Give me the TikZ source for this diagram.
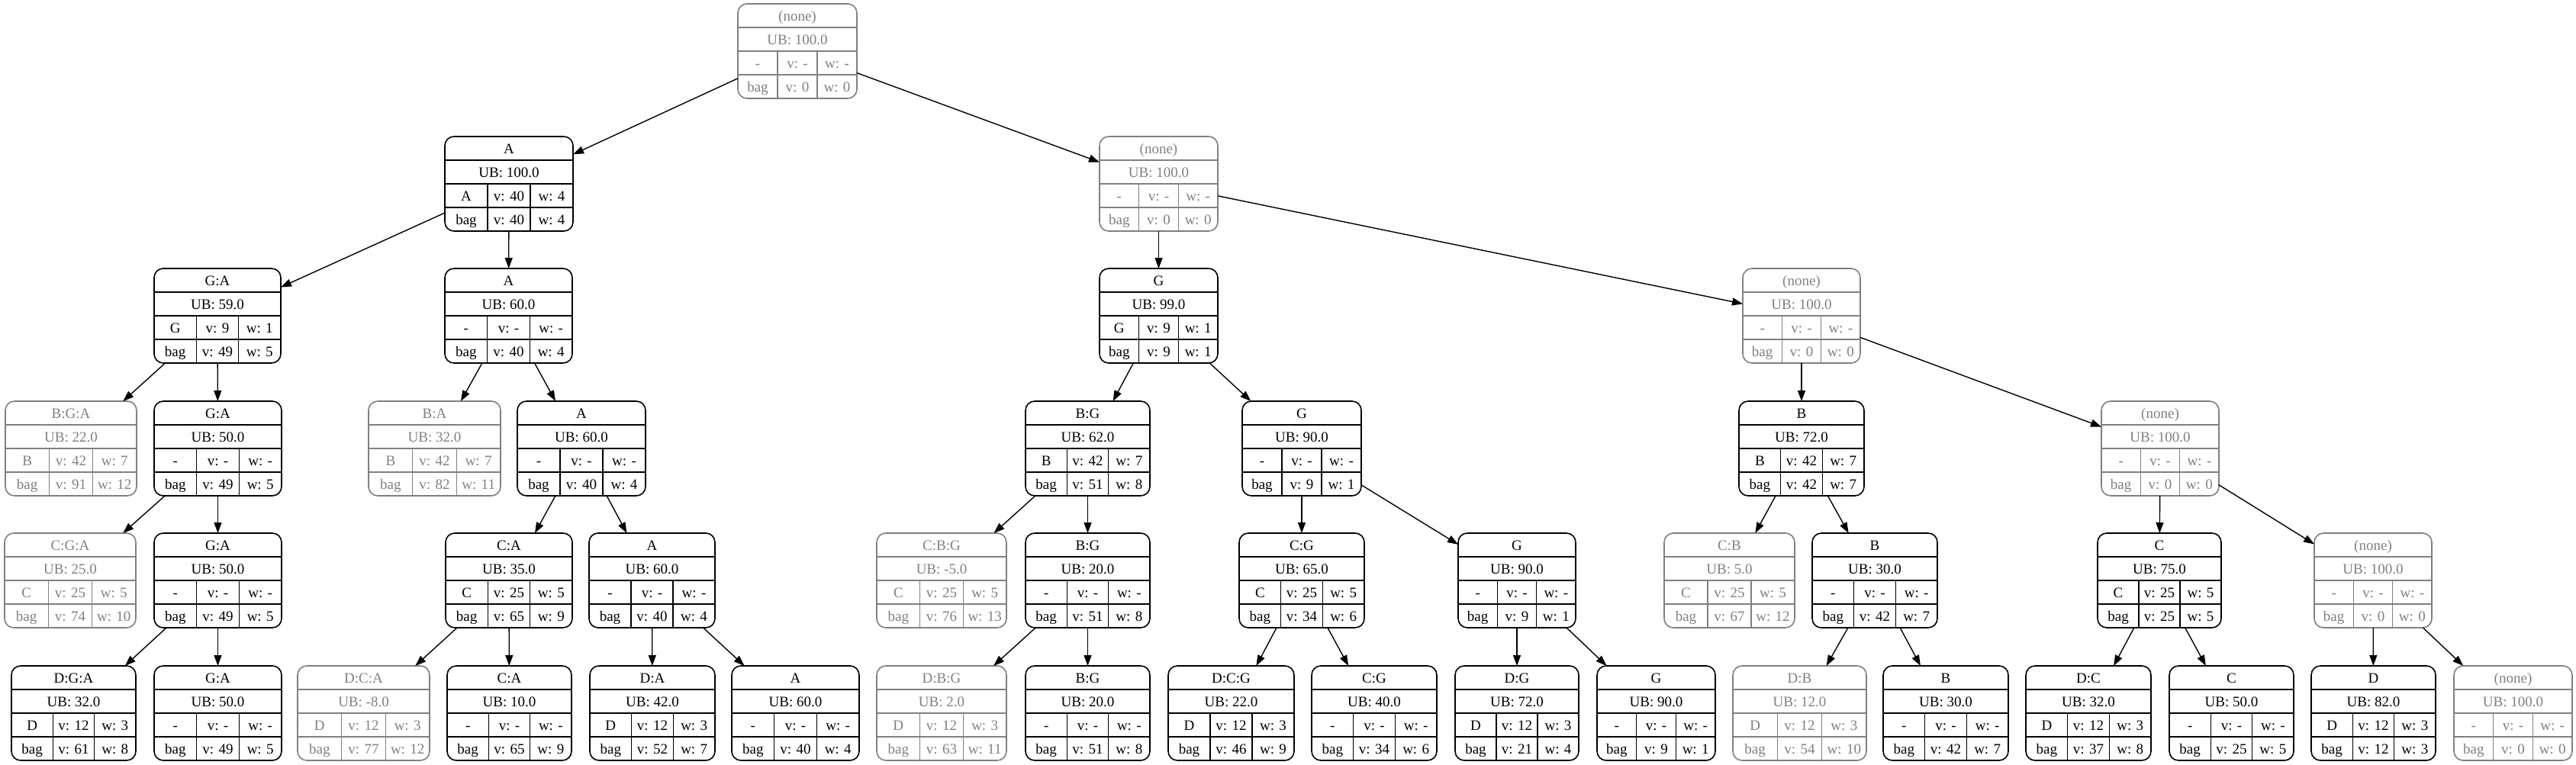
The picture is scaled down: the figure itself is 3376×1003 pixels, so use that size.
\documentclass[tikz,border=0pt]{standalone}
\usepackage{fontspec}
\setmainfont{Liberation Serif}
\usetikzlibrary{arrows.meta}
\newcommand\recfont{\fontsize{19}{23}\selectfont}
\colorlet{pr}{gray}
\newlength\lA \newlength\lB \newlength\lC
\def\splitthree#1/#2/#3\relax{\def\ta{#1}\def\tb{#2}\def\tc{#3}}
\def\splittwo#1/#2\relax{\def\td{#1}\def\te{#2}}
\tikzset{
  recbox/.style={rectangle, rounded corners=12pt, minimum height=124pt, inner sep=0pt, outer sep=0pt, anchor=north west, line width=1.6pt},
  recline/.style={line width=1.3pt},
  rectext/.style={anchor=base, inner sep=0pt, font=\recfont},
  edge/.style={-{Triangle[length=14pt,width=10pt]}, line width=1.4pt, black},
}
\newcommand\recnode[9]{%
  \pgfmathsetmacro\rW{#3-#2}%
  \pgfmathsetmacro\rxc{(#2+#3)/2}%
  \node[recbox, draw=#5, minimum width=\rW pt] (#1) at (#2,#4) {};
  \splitthree#8\relax \splittwo#9\relax
  \draw[recline,#5] (#2,#4+31) -- (#3,#4+31) (#2,#4+62) -- (#3,#4+62) (#2,#4+93) -- (#3,#4+93);
  \node[rectext,text=#5] at (\rxc,#4+22.5) {#6};
  \node[rectext,text=#5] at (\rxc,#4+53.5) {UB: #7};
  \settowidth\lA{\recfont\ta}\settowidth\lB{\recfont v: \tb}\settowidth\lC{\recfont w: \tc}%
  \pgfmathsetmacro\rex{(\rW-\lA-\lB-\lC)/3}%
  \pgfmathsetmacro\rxa{#2+\lA+\rex}%
  \pgfmathsetmacro\rxb{\rxa+\lB+\rex}%
  \draw[recline,#5] (\rxa,#4+62) -- (\rxa,#4+93) (\rxb,#4+62) -- (\rxb,#4+93);
  \node[rectext,text=#5] at ({(#2+\rxa)/2},#4+84.5) {\ta};
  \node[rectext,text=#5] at ({(\rxa+\rxb)/2},#4+84.5) {v: \tb};
  \node[rectext,text=#5] at ({(\rxb+#3)/2},#4+84.5) {w: \tc};
  \settowidth\lA{\recfont bag}\settowidth\lB{\recfont v: \td}\settowidth\lC{\recfont w: \te}%
  \pgfmathsetmacro\rex{(\rW-\lA-\lB-\lC)/3}%
  \pgfmathsetmacro\rxa{#2+\lA+\rex}%
  \pgfmathsetmacro\rxb{\rxa+\lB+\rex}%
  \draw[recline,#5] (\rxa,#4+93) -- (\rxa,#4+124) (\rxb,#4+93) -- (\rxb,#4+124);
  \node[rectext,text=#5] at ({(#2+\rxa)/2},#4+115.5) {bag};
  \node[rectext,text=#5] at ({(\rxa+\rxb)/2},#4+115.5) {v: \td};
  \node[rectext,text=#5] at ({(\rxb+#3)/2},#4+115.5) {w: \te};
}
\begin{document}
\begin{tikzpicture}[x=1pt,y=-1pt]
\useasboundingbox (0,0) rectangle (3376,1003);
\recnode{n0}{967}{1123}{5}{pr}{(none)}{100.0}{-/-/-}{0/0}
\recnode{n1}{583}{751}{179}{black}{A}{100.0}{A/40/4}{40/4}
\recnode{n2}{1441}{1596}{179}{pr}{(none)}{100.0}{-/-/-}{0/0}
\recnode{n3}{202}{368}{352}{black}{G:A}{59.0}{G/9/1}{49/5}
\recnode{n4}{583}{750}{352}{black}{A}{60.0}{-/-/-}{40/4}
\recnode{n5}{1441}{1596}{352}{black}{G}{99.0}{G/9/1}{9/1}
\recnode{n6}{2284}{2438}{352}{pr}{(none)}{100.0}{-/-/-}{0/0}
\recnode{n7}{7}{179}{526}{pr}{B:G:A}{22.0}{B/42/7}{91/12}
\recnode{n8}{202}{369}{526}{black}{G:A}{50.0}{-/-/-}{49/5}
\recnode{n9}{483}{656}{526}{pr}{B:A}{32.0}{B/42/7}{82/11}
\recnode{n10}{678}{846}{526}{black}{A}{60.0}{-/-/-}{40/4}
\recnode{n11}{1344}{1507}{526}{black}{B:G}{62.0}{B/42/7}{51/8}
\recnode{n12}{1628}{1784}{526}{black}{G}{90.0}{-/-/-}{9/1}
\recnode{n13}{2279}{2443}{526}{black}{B}{72.0}{B/42/7}{42/7}
\recnode{n14}{2754}{2908}{526}{pr}{(none)}{100.0}{-/-/-}{0/0}
\recnode{n15}{6}{178}{699}{pr}{C:G:A}{25.0}{C/25/5}{74/10}
\recnode{n16}{202}{369}{699}{black}{G:A}{50.0}{-/-/-}{49/5}
\recnode{n17}{584}{750}{699}{black}{C:A}{35.0}{C/25/5}{65/9}
\recnode{n18}{772}{937}{699}{black}{A}{60.0}{-/-/-}{40/4}
\recnode{n19}{1149}{1319}{699}{pr}{C:B:G}{-5.0}{C/25/5}{76/13}
\recnode{n20}{1344}{1507}{699}{black}{B:G}{20.0}{-/-/-}{51/8}
\recnode{n21}{1624}{1788}{699}{black}{C:G}{65.0}{C/25/5}{34/6}
\recnode{n22}{1911}{2065}{699}{black}{G}{90.0}{-/-/-}{9/1}
\recnode{n23}{2181}{2352}{699}{pr}{C:B}{5.0}{C/25/5}{67/12}
\recnode{n24}{2375}{2539}{699}{black}{B}{30.0}{-/-/-}{42/7}
\recnode{n25}{2749}{2911}{699}{black}{C}{75.0}{C/25/5}{25/5}
\recnode{n26}{3033}{3187}{699}{pr}{(none)}{100.0}{-/-/-}{0/0}
\recnode{n27}{15}{178}{873}{black}{D:G:A}{32.0}{D/12/3}{61/8}
\recnode{n28}{202}{369}{873}{black}{G:A}{50.0}{-/-/-}{49/5}
\recnode{n29}{390}{563}{873}{pr}{D:C:A}{-8.0}{D/12/3}{77/12}
\recnode{n30}{586}{749}{873}{black}{C:A}{10.0}{-/-/-}{65/9}
\recnode{n31}{773}{937}{873}{black}{D:A}{42.0}{D/12/3}{52/7}
\recnode{n32}{959}{1126}{873}{black}{A}{60.0}{-/-/-}{40/4}
\recnode{n33}{1149}{1319}{873}{pr}{D:B:G}{2.0}{D/12/3}{63/11}
\recnode{n34}{1344}{1507}{873}{black}{B:G}{20.0}{-/-/-}{51/8}
\recnode{n35}{1531}{1696}{873}{black}{D:C:G}{22.0}{D/12/3}{46/9}
\recnode{n36}{1719}{1883}{873}{black}{C:G}{40.0}{-/-/-}{34/6}
\recnode{n37}{1907}{2069}{873}{black}{D:G}{72.0}{D/12/3}{21/4}
\recnode{n38}{2093}{2248}{873}{black}{G}{90.0}{-/-/-}{9/1}
\recnode{n39}{2271}{2446}{873}{pr}{D:B}{12.0}{D/12/3}{54/10}
\recnode{n40}{2468}{2632}{873}{black}{B}{30.0}{-/-/-}{42/7}
\recnode{n41}{2655}{2819}{873}{black}{D:C}{32.0}{D/12/3}{37/8}
\recnode{n42}{2843}{3006}{873}{black}{C}{50.0}{-/-/-}{25/5}
\recnode{n43}{3029}{3192}{873}{black}{D}{82.0}{D/12/3}{12/3}
\recnode{n44}{3216}{3371}{873}{pr}{(none)}{100.0}{-/-/-}{0/0}
\foreach \p/\c in {n0/n1,n0/n2,n1/n3,n1/n4,n2/n5,n2/n6,n3/n7,n3/n8,n4/n9,n4/n10,n5/n11,n5/n12,n6/n13,n6/n14,n8/n15,n8/n16,n10/n17,n10/n18,n11/n19,n11/n20,n12/n21,n12/n22,n13/n23,n13/n24,n14/n25,n14/n26,n16/n27,n16/n28,n17/n29,n17/n30,n18/n31,n18/n32,n20/n33,n20/n34,n21/n35,n21/n36,n22/n37,n22/n38,n24/n39,n24/n40,n25/n41,n25/n42,n26/n43,n26/n44}
  \draw[edge] (\p) -- (\c);
\end{tikzpicture}
\end{document}
